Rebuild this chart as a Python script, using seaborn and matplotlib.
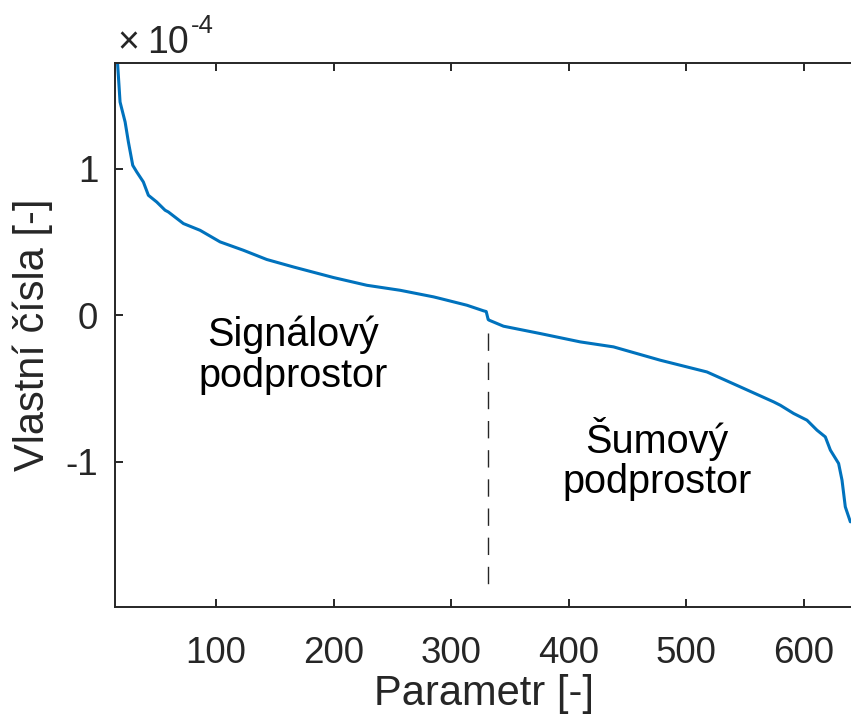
import matplotlib
matplotlib.use("Agg")
import matplotlib.pyplot as plt
import pandas as pd
import seaborn as sns

# Sorted eigenvalues of the covariance matrix (in units of 1e-4)
param = [15, 16.3, 18.3, 22.6, 25.4, 29.1, 32.5, 38.1, 42.4, 49.5, 56.6, 59.4,
         72.2, 86.4, 103.4, 123.2, 143.1, 165.8, 199.8, 228.3, 256.6, 285.0,
         290.6, 313.4, 327.5, 329.8, 331.5, 332.3, 344.5, 375.7, 409.8, 438.1,
         477.9, 517.6, 546.0, 574.3, 580.0, 591.3, 602.7, 611.2, 618.3, 622.6,
         629.6, 632.5, 635.3, 639.6]
eig = [1.85, 1.704, 1.454, 1.318, 1.181, 1.022, 0.977, 0.909, 0.818, 0.772,
       0.716, 0.704, 0.625, 0.579, 0.500, 0.443, 0.380, 0.329, 0.257, 0.204,
       0.170, 0.125, 0.114, 0.068, 0.030, 0.025, -0.030, -0.034, -0.075,
       -0.125, -0.182, -0.216, -0.307, -0.387, -0.489, -0.591, -0.614,
       -0.670, -0.716, -0.784, -0.830, -0.920, -1.011, -1.125, -1.307, -1.409]

# Boundary between signal and noise subspace
split_x = [331.5, 331.5]
split_y = [-0.12, -1.87]

x_ticks = [100, 200, 300, 400, 500, 600]
y_ticks = [-1, 0, 1]

sns.set_theme(style="ticks")
plt.rcParams["font.family"] = ["Liberation Sans", "DejaVu Sans"]
plt.rcParams["axes.unicode_minus"] = False

ink = "#262626"
fig = plt.figure(figsize=(8.51, 7.25), dpi=100)
ax = fig.add_axes([115 / 851, 118 / 725, 737 / 851, 544 / 725])

df = pd.DataFrame({"Parametr": param, "Vlastni": eig})
sns.lineplot(data=df, x="Parametr", y="Vlastni", ax=ax, color="#0072BD",
             linewidth=2.2, estimator=None, sort=False)
ax.plot(split_x, split_y, color=ink, linewidth=1.0, linestyle=(0, (12.5, 8.5)))

ax.set_xlim(14, 641)
ax.set_ylim(-1.99, 1.72)
ax.set_xticks(x_ticks)
ax.set_yticks(y_ticks)
ax.set_xticklabels([str(v) for v in x_ticks])
ax.set_yticklabels([str(v) for v in y_ticks])

for side in ["left", "right", "top", "bottom"]:
    ax.spines[side].set_visible(True)
    ax.spines[side].set_color(ink)
    ax.spines[side].set_linewidth(1.4)

ax.tick_params(axis="both", direction="in", length=5.8, width=1.4,
               top=True, right=False, colors=ink, labelsize=26.5)
ax.tick_params(axis="x", pad=21)
ax.tick_params(axis="y", pad=12)

ax.set_xlabel("Parametr [-]", fontsize=30, color=ink, va="center")
ax.xaxis.set_label_coords(0.5, (607 - 694) / 544)
ax.set_ylabel("Vlastní čísla [-]", fontsize=30, color=ink, va="center")
ax.yaxis.set_label_coords((33 - 115) / 737, 0.5)

# Exponent of the y axis
ax.text((117 - 115) / 737, 1 + 10 / 544, "×", transform=ax.transAxes,
        fontsize=27, color=ink, ha="left", va="baseline")
ax.text((147 - 115) / 737, 1 + 10 / 544, "10", transform=ax.transAxes,
        fontsize=27, color=ink, ha="left", va="baseline")
ax.text((191 - 115) / 737, 1 + 30 / 544, "-4", transform=ax.transAxes,
        fontsize=18.5, color=ink, ha="left", va="baseline")

ax.text(165.5, -0.273, "Signálový\npodprostor", fontsize=28.5, color="black",
        ha="center", va="center", linespacing=1.07)
ax.text(474.9, -0.98, "Šumový\npodprostor", fontsize=28.5, color="black",
        ha="center", va="center", linespacing=1.07)

fig.savefig("out.png", dpi=100)
